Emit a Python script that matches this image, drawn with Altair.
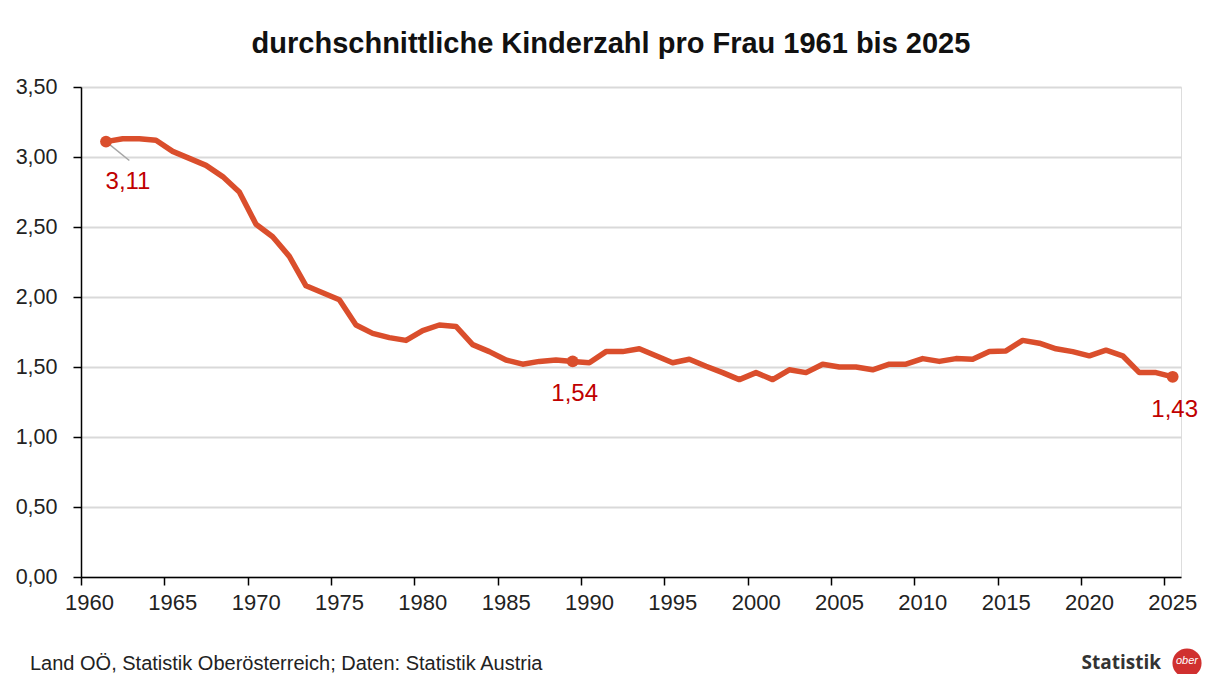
import altair as alt
import pandas as pd

years = list(range(1961, 2026))
values = [3.11, 3.13, 3.13, 3.12, 3.04, 2.99, 2.94, 2.86, 2.75, 2.52,
          2.43, 2.29, 2.08, 2.03, 1.98, 1.80, 1.74, 1.71, 1.69, 1.76,
          1.80, 1.79, 1.66, 1.61, 1.55, 1.52, 1.54, 1.55, 1.54, 1.53,
          1.61, 1.61, 1.63, 1.58, 1.53, 1.555, 1.505, 1.46, 1.41, 1.46,
          1.41, 1.48, 1.46, 1.52, 1.50, 1.50, 1.48, 1.52, 1.52, 1.56,
          1.54, 1.56, 1.555, 1.61, 1.615, 1.69, 1.67, 1.63, 1.61, 1.58,
          1.62, 1.58, 1.46, 1.46, 1.43]

label_years = [1961, 1989, 2025]
label_values = [3.11, 1.54, 1.43]
label_texts = ["3,11", "1,54", "1,43"]

x_ticks = list(range(1960, 2030, 5))
y_ticks = [0, 0.5, 1, 1.5, 2, 2.5, 3, 3.5]

df = pd.DataFrame({"year": years, "value": values})
lab = pd.DataFrame({"year": label_years, "value": label_values, "text": label_texts})

LINE = "#DA4E2C"
RED = "#C00000"
FONT = "Liberation Sans"

xscale = alt.Scale(domain=[1960, 2026], nice=False, zero=False)
yscale = alt.Scale(domain=[0, 3.5], nice=False)

x_axis = alt.Axis(values=x_ticks, format="d", grid=False, title=None,
                  domainColor="#000000", domainWidth=1.5, tickColor="#000000",
                  tickSize=8, tickWidth=1.5, labelFontSize=22, labelColor="#222222",
                  labelFont=FONT, labelPadding=7, labelFlush=False, labelOffset=8)
y_axis = alt.Axis(values=y_ticks, title=None, grid=True, gridColor="#d9d9d9",
                  gridWidth=2, domainColor="#000000", domainWidth=1.5,
                  tickColor="#000000", tickSize=8, tickWidth=1.5,
                  labelFontSize=21.5, labelColor="#222222", labelFont=FONT,
                  labelPadding=16,
                  labelExpr="replace(format(datum.value, '.2f'), '.', ',')")

base = alt.Chart(df).transform_calculate(x="datum.year + 0.5")

line = base.mark_line(color=LINE, strokeWidth=5.5, strokeJoin="round").encode(
    x=alt.X("x:Q", scale=xscale, axis=x_axis),
    y=alt.Y("value:Q", scale=yscale, axis=y_axis),
)

lbase = alt.Chart(lab).transform_calculate(x="datum.year + 0.5")

leader = lbase.transform_filter("datum.year == 1961").transform_calculate(
    x2="datum.x + 1.4", y2="datum.value - 0.135"
).mark_rule(color="#a6a6a6", strokeWidth=1.5).encode(
    x=alt.X("x:Q", scale=xscale), y=alt.Y("value:Q", scale=yscale),
    x2="x2:Q", y2="y2:Q")

dots = lbase.mark_circle(color=LINE, size=140, opacity=1).encode(
    x=alt.X("x:Q", scale=xscale), y=alt.Y("value:Q", scale=yscale))

t1 = lbase.transform_filter("datum.year == 1961").mark_text(
    color=RED, fontSize=24, font=FONT, dx=22, dy=40).encode(
    x=alt.X("x:Q", scale=xscale), y=alt.Y("value:Q", scale=yscale), text="text:N")
t2 = lbase.transform_filter("datum.year != 1961").mark_text(
    color=RED, fontSize=24, font=FONT, dx=2, dy=33).encode(
    x=alt.X("x:Q", scale=xscale), y=alt.Y("value:Q", scale=yscale), text="text:N")

footer = alt.Chart(pd.DataFrame({"t": ["Land OÖ, Statistik Oberösterreich; Daten: Statistik Austria"]})).mark_text(
    align="left", baseline="middle", fontSize=20, font=FONT, color="#222222").encode(
    x=alt.value(-51), y=alt.value(577), text="t:N")

logo_text = alt.Chart(pd.DataFrame({"t": ["Statistik"]})).mark_text(
    align="right", baseline="middle", fontSize=19, font="Open Sans", fontWeight="bold",
    color="#333333").encode(x=alt.value(1080), y=alt.value(576), text="t:N")

logo_circle = alt.Chart(pd.DataFrame({"t": ["ober"]})).mark_circle(
    color="#D0302F", size=850, opacity=1).encode(x=alt.value(1106), y=alt.value(576))
logo_circle_t = alt.Chart(pd.DataFrame({"t": ["ober"]})).mark_text(
    fontSize=11, font=FONT, fontStyle="italic", color="#ffffff", baseline="middle").encode(
    x=alt.value(1106), y=alt.value(574), text="t:N")

chart = alt.layer(line, leader, dots, t1, t2, footer, logo_text, logo_circle,
                  logo_circle_t).properties(
    width=1100, height=490,
    title=alt.TitleParams("durchschnittliche Kinderzahl pro Frau 1961 bis 2025",
                          fontSize=29, font=FONT, fontWeight="bold",
                          color="#111111", anchor="middle", offset=17, dx=-20),
    autosize=alt.AutoSizeParams(type="none"),
    padding={"left": 73, "top": 79, "right": 24, "bottom": 97},
).configure_view(stroke=None).configure(background="white")

chart.save("out.html", embed_options={"renderer": "svg", "actions": False})
